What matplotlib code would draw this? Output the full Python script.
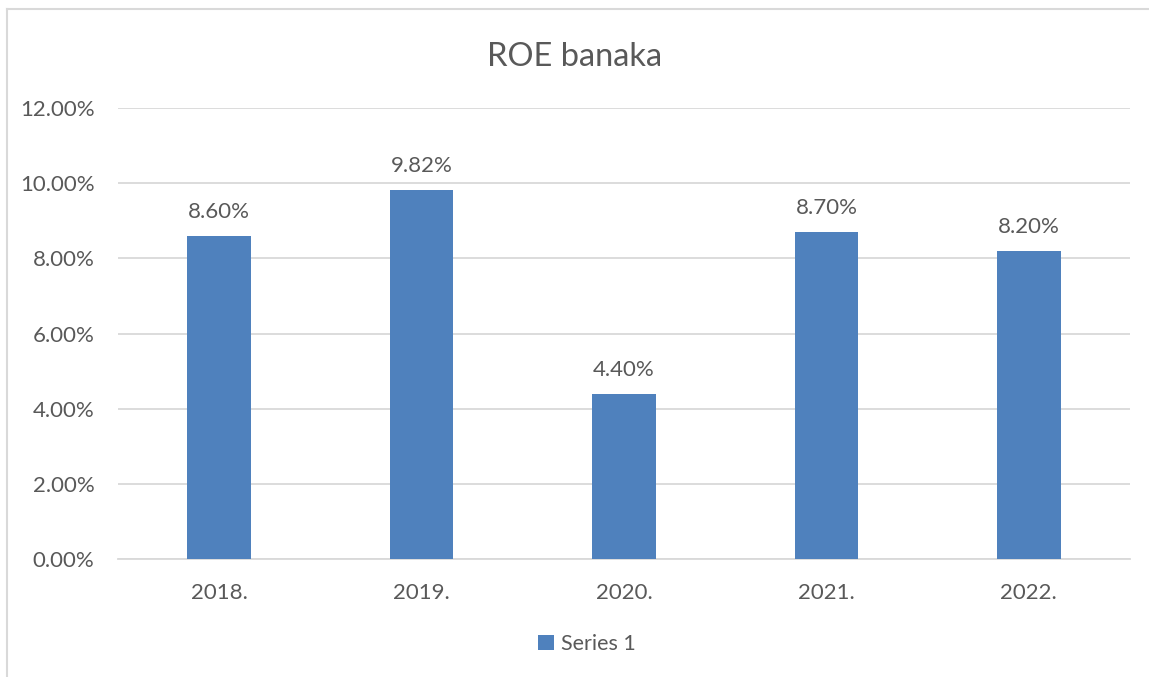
import matplotlib
matplotlib.use("Agg")
import matplotlib.pyplot as plt
from matplotlib.patches import Patch
from matplotlib.lines import Line2D
from matplotlib.ticker import FuncFormatter, MultipleLocator

categories = ["2018.", "2019.", "2020.", "2021.", "2022."]
values = [8.60, 9.82, 4.40, 8.70, 8.20]
series_name = "Series 1"
title = "ROE banaka"

W, H = 1149, 677
plt.rcParams['font.family'] = ['Lato', 'DejaVu Sans']
txt = '#595959'
grid = '#D9D9D9'
bar_c = '#4F81BD'

fig = plt.figure(figsize=(W/100, H/100), dpi=100)
ax = fig.add_axes([118/W, 1-559/H, (1130-118)/W, (559-108)/H])

x = list(range(len(categories)))
bars = ax.bar(x, values, width=0.315, color=bar_c, zorder=3)
ax.set_xlim(-0.5, len(categories)-0.5)
ax.set_ylim(0, 12)
ax.yaxis.set_major_locator(MultipleLocator(2))
ax.yaxis.set_major_formatter(FuncFormatter(lambda v, p: f"{v:.2f}%"))
ax.set_xticks(x)
ax.set_xticklabels(categories)
ax.tick_params(axis='both', length=0, colors=txt, labelsize=16)
ax.tick_params(axis='y', pad=17)
ax.tick_params(axis='x', pad=17)
ax.grid(axis='y', color=grid, linewidth=1.3, zorder=0)
for s in ['top', 'right', 'left']:
    ax.spines[s].set_visible(False)
ax.spines['bottom'].set_color(grid)
ax.spines['bottom'].set_linewidth(1.3)

for xi, v in zip(x, values):
    ax.annotate(f"{v:.2f}%", (xi, v), xytext=(0, 10), textcoords='offset points',
                ha='center', va='bottom', color=txt, fontsize=16)

fig.text(0.5, 1-57/H, title, ha='center', va='center', fontsize=23.5, color=txt)

# chart border (partially visible)
fig.add_artist(Line2D([7/W, 7/W], [0, 1-9/H], color=grid, linewidth=1.5))
fig.add_artist(Line2D([7/W, 1], [1-9/H, 1-9/H], color=grid, linewidth=1.5))

handles = [Patch(facecolor=bar_c, label=series_name)]
fig.legend(handles=handles, loc='center', bbox_to_anchor=(587/W, 1-644/H), frameon=False,
           fontsize=15.5, labelcolor=txt, handlelength=0.75, handleheight=0.75, handletextpad=0.35)

fig.savefig("out.png", dpi=100)
